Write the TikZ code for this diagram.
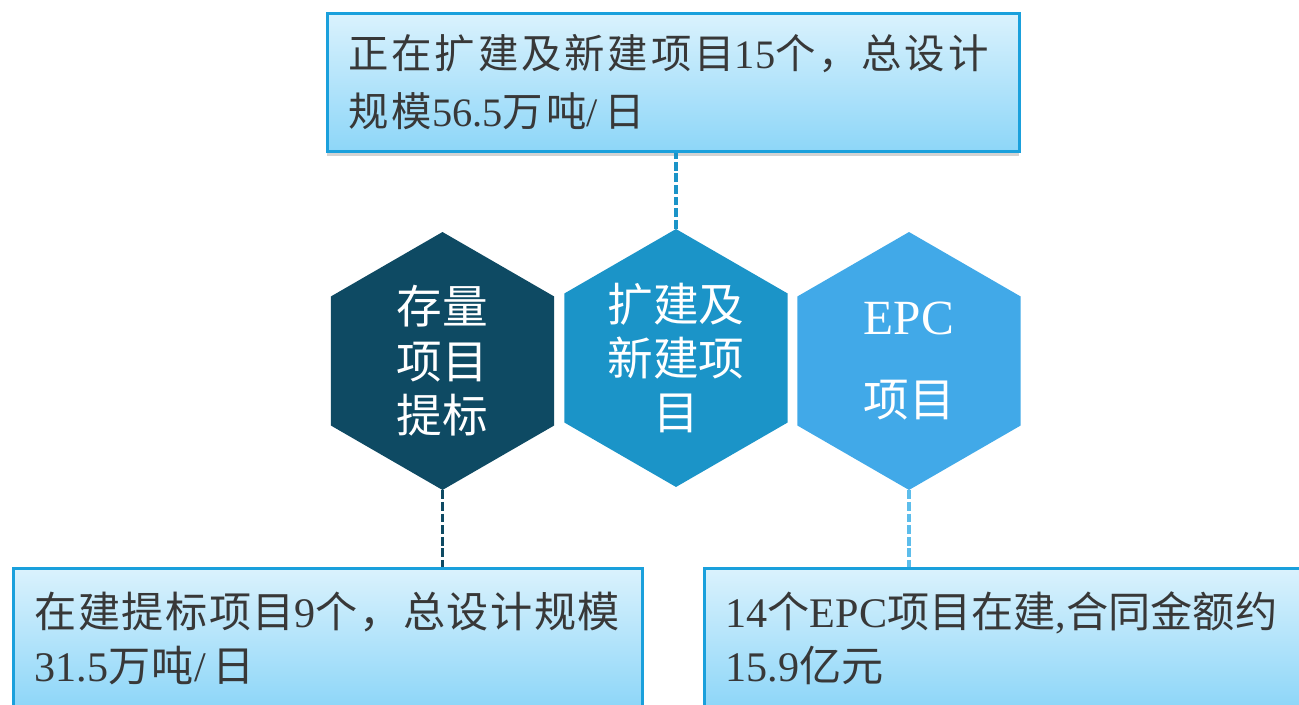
\documentclass[tikz,border=0pt]{standalone}
\usepackage{fontspec}
\setmainfont{Liberation Serif}
\newfontfamily\cjk{Noto Sans CJK SC}
\newfontfamily\cjkweit{Noto Sans CJK SC}[LetterSpace=7]
\newfontfamily\cjkmittel{Noto Sans CJK SC}[LetterSpace=3.5]
\usetikzlibrary{shapes.geometric,shadows}

\definecolor{hexdunkel}{HTML}{0E4A63}
\definecolor{hexmittel}{HTML}{1B94C8}
\definecolor{hexhell}{HTML}{41A9E8}
\definecolor{linienhell}{HTML}{5DBDEB}
\definecolor{kastenrand}{HTML}{1AA0DC}
\definecolor{kastenoben}{HTML}{DAF2FD}
\definecolor{kastenunten}{HTML}{8DD6F8}
\definecolor{schrift}{HTML}{383838}

\begin{document}
\begin{tikzpicture}[%
        x=0.02cm, y=-0.02cm, % Pixelraster
        kasten/.style={draw=kastenrand, line width=1.7pt,
            top color=kastenoben, bottom color=kastenunten,
            anchor=north west, inner xsep=0.42cm, inner ysep=0pt,
            text=schrift, align=left},
        sechseck/.style={regular polygon, regular polygon sides=6,
            shape border rotate=30, minimum size=5.16cm, inner sep=0pt,
            text=white, align=center, font=\fontsize{26}{31}\selectfont\cjk},
        verbinder/.style={line width=2.2pt, dash pattern=on 5pt off 1.6pt}
        ]
            \useasboundingbox (0,0) rectangle (1299,705);
            \clip (0,0) rectangle (1299,705);

            % Kaesten
            \node[kasten, drop shadow={shadow xshift=0pt, shadow yshift=-2.5pt, opacity=0.35},
                  text width=13.0cm, minimum height=2.76cm,
                  font=\fontsize{23}{33}\selectfont] (oben) at (326,12)
                {{\cjkweit 正在扩建及新建项目}15{\cjkweit 个，总设计}\\{\cjkweit 规模}56.5{\cjkweit 万吨}/\,{\cjk 日}};
            \node[kasten, text width=11.74cm, minimum height=2.8cm,
                  font=\fontsize{24}{31}\selectfont] (links) at (12,567)
                {{\cjkmittel 在建提标项目}9{\cjkmittel 个，总设计规模}\\31.5{\cjkmittel 万吨}/\,{\cjk 日}};
            \node[kasten, text width=11.6cm, minimum height=2.8cm,
                  font=\fontsize{24}{31}\selectfont] (rechts) at (703,567)
                {14{\cjk 个}EPC{\cjk 项目在建},{\cjk 合同金额约}\\15.9{\cjk 亿元}};

            % Sechsecke
            \node[sechseck, fill=hexdunkel] (bestand) at (442.5,361) {存量\\项目\\提标};
            \node[sechseck, fill=hexmittel] (ausbau)  at (676,358)   {扩建及\\新建项\\目};
            \node[sechseck, fill=hexhell]   (epc)     at (909,361)
                {{\rmfamily\fontsize{28}{31}\selectfont EPC}\\[16pt]项目};

            % Verbindungen
            \draw[verbinder, draw=hexmittel] (ausbau.north) -- (ausbau.north |- oben.south);
            \draw[verbinder, draw=hexdunkel] (bestand.south) -- (bestand.south |- links.north);
            \draw[verbinder, draw=linienhell] (epc.south) -- (epc.south |- rechts.north);

        \end{tikzpicture}
\end{document}
